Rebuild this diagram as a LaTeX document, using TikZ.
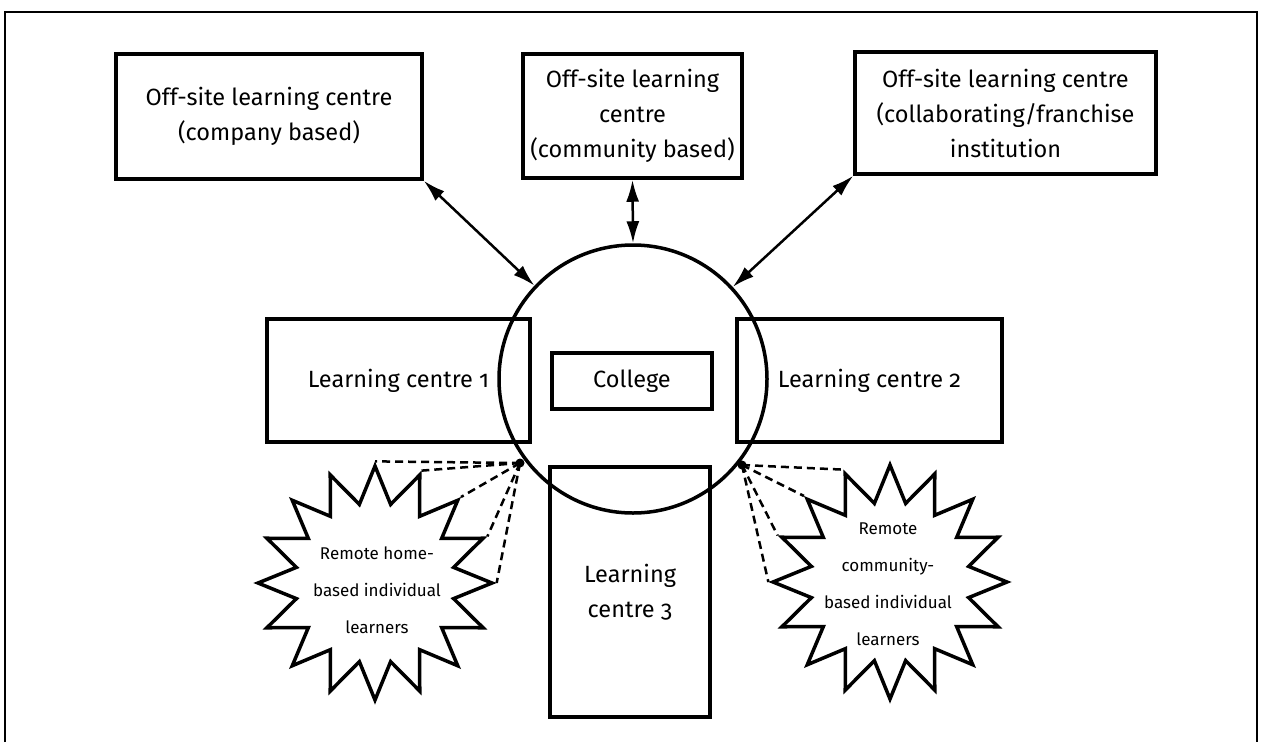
\documentclass[tikz,border=0pt]{standalone}
\usepackage{fontspec}
\setmainfont{Fira Sans}[Numbers=OldStyle]
\usetikzlibrary{shapes.geometric,arrows.meta}
\tikzset{
	centre/.style   = {draw, line width=3.5pt, rectangle, inner sep=0pt,
		align=center, font=\fontsize{23.5}{35}\selectfont},
	ring/.style     = {draw, line width=3.5pt, circle, inner sep=0pt,
		minimum size=268pt},
	burst/.style    = {draw, line width=3.5pt, star, star points=16,
		star point ratio=1.46, inner sep=0pt, minimum size=234pt},
	bursttext/.style = {align=center, font=\fontsize{17}{37}\selectfont},
	hub/.style      = {circle, fill, inner sep=0pt, minimum size=9pt}, % dot
	link/.style     = {<->, line width=2.5pt},
	remote/.style   = {line width=2.5pt, dash pattern=on 8pt off 5pt}
}

\begin{document}
\begin{tikzpicture}[x=1pt, y=-1pt, >={Latex[length=22pt,width=13pt]}]
	\useasboundingbox (0,0) rectangle (1261,742);
	\draw[line width=1.8pt] (5,742) -- (5,12) -- (1257,12) -- (1257,742);

	\draw
	node at (269,116.5)[centre, minimum width=306pt, minimum height=125pt] (company)
		{Off-site learning centre\\(company based)}
	node at (632.5,116)[centre, minimum width=219pt, minimum height=124pt] (community)
		{Off-site learning\\centre\\(community based)}
	node at (1005.5,113)[centre, minimum width=301pt, minimum height=122pt] (franchise)
		{Off-site learning centre\\(collaborating/franchise\\institution}
	node at (633,379)[ring] (ring){}
	node at (398.5,380.5)[centre, minimum width=263pt, minimum height=123pt] (lc1)
		{Learning centre 1}
	node at (632,381)[centre, minimum width=160pt, minimum height=56pt] (college)
		{College}
	node at (869.5,380.5)[centre, minimum width=265pt, minimum height=123pt] (lc2)
		{Learning centre 2}
	node at (630,592)[centre, minimum width=160pt, minimum height=250pt] (lc3)
		{Learning\\centre 3}
	node at (375,583)[burst] (home){}
	node at (890,582)[burst] (commstar){}
	;
	\node[bursttext] at (377,590) {Remote home-\\based individual\\learners};
	\node[bursttext] at (888,584) {Remote\\community-\\based individual\\learners};

	\draw[link] (company.south east) -- (ring);
	\draw[link] (community.south) -- (ring.north);
	\draw[link] (franchise.south west) -- (ring);

	\coordinate (hubL) at (520,463);
	\coordinate (hubR) at (742,465);
	\draw[remote] (hubL) -- (home.outer point 1);
	\draw[remote] (hubL) -- (home.outer point 16);
	\draw[remote] (hubL) -- (home.outer point 15);
	\draw[remote] (hubL) -- (home.outer point 14);
	\draw[remote] (hubL) -- (home.outer point 13);
	\draw[remote] (hubR) -- (commstar.outer point 2);
	\draw[remote] (hubR) -- (commstar.outer point 3);
	\draw[remote] (hubR) -- (commstar.outer point 4);
	\draw[remote] (hubR) -- (commstar.outer point 5);

	\draw
	node at (hubL)[hub] {}
	node at (hubR)[hub] {};
\end{tikzpicture}
\end{document}
